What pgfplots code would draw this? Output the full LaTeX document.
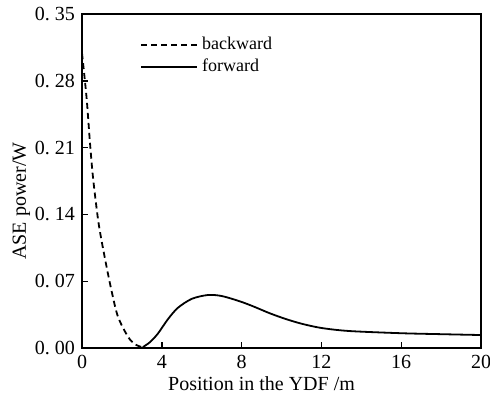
\documentclass[border=0pt]{standalone}
\usepackage{pgfplots}
\pgfplotsset{compat=1.18}
\usepackage{fontspec}
\setmainfont{Liberation Serif}
\begin{document}
\begin{tikzpicture}
\begin{axis}[
  scale only axis,
  width=199.5pt, height=167pt,
  xmin=0, xmax=20, ymin=0, ymax=0.35,
  xtick={0,4,8,12,16,20},
  ytick={0,0.07,0.14,0.21,0.28,0.35},
  yticklabels={0.\ 00,0.\ 07,0.\ 14,0.\ 21,0.\ 28,0.\ 35},
  /pgf/number format/assume math mode=true,
  tick align=inside,
  xtick pos=bottom, ytick pos=left,
  major tick length=3pt,
  axis line style={line width=0.9pt},
  tick style={line width=0.7pt, black},
  font=\normalsize,
  tick label style={font=\normalsize},
  xlabel={Position in the YDF /m},
  ylabel={ASE power/W},
  xlabel style={at={(ticklabel cs:0.45)}, yshift=3pt},
  ylabel style={at={(ticklabel cs:0.44)}, yshift=-4.5pt},
  legend style={draw=none, fill=none, at={(0.13,0.955)}, anchor=north west,
    font=\small, row sep=-1pt},
  legend cell align=left,
  legend image code/.code={\draw[#1] (0pt,0pt) -- (28pt,0pt);},
]
\addplot[black, line width=0.9pt, dash pattern=on 3pt off 2pt, smooth, tension=0.5] coordinates {
(0,0.309) (0.23,0.262) (0.4,0.215) (0.56,0.177) (0.83,0.131) (1.13,0.096)
(1.47,0.061) (1.8,0.033) (2.3,0.012) (2.65,0.004) (3.0,0.001)
};
\addlegendentry{backward}
\addplot[black, line width=0.9pt, smooth, tension=0.5] coordinates {
(3.05,0.001) (3.4,0.006) (3.8,0.015) (4.3,0.030) (4.8,0.042) (5.5,0.0515) (6.3,0.0555)
(7.0,0.0545) (7.9,0.049) (8.6,0.0435) (9.4,0.0365) (10.2,0.0305) (11.0,0.0255) (12.0,0.021)
(13.4,0.0178) (16,0.0155) (18,0.0145) (20,0.0136)
};
\addlegendentry{forward}
\end{axis}
\pgfresetboundingbox
\path ([xshift=-41pt,yshift=-22.5pt]current axis.south west) rectangle ([xshift=4.5pt,yshift=7pt]current axis.north east);
\end{tikzpicture}
\end{document}
